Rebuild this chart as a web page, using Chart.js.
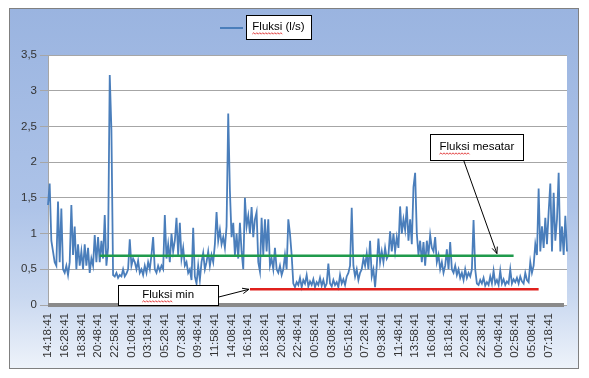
<!DOCTYPE html>
<html>
<head>
<meta charset="utf-8">
<script src="https://cdn.jsdelivr.net/npm/chart.js@4.4.0/dist/chart.umd.min.js"></script>
<style>
html, body { margin: 0; padding: 0; background: #fff; }
</style>
</head>
<body>
<canvas id="chart" width="589" height="378"></canvas>
<script>
// flow readings, one every 13 minutes, split by day
var fluxDay1 = [
    1.4, 1.7, 0.9, 0.75, 0.6, 0.55, 1.45, 0.6, 1.35, 0.5,
    0.45, 0.55, 0.42, 0.6, 1.4, 0.7, 1.1, 0.5, 0.85, 0.55,
    0.75, 0.5, 0.85, 0.55, 0.8, 0.45, 0.65, 0.55, 0.98, 0.6,
    0.95, 0.6, 0.9, 0.65, 1.26, 0.55, 0.8, 3.22, 2.45, 0.42,
    0.4, 0.45, 0.38, 0.42, 0.4
]
var fluxDay2 = [
    0.5, 0.4, 0.44, 0.5, 0.92,
    0.55, 0.65, 0.6, 0.5, 0.62, 0.45, 0.5, 0.42, 0.55, 0.45,
    0.6, 0.5, 0.7, 0.95, 0.5, 0.45, 0.55, 0.48, 0.55, 0.5,
    1.26, 0.65, 0.85, 0.6, 1.0, 0.75, 0.9, 1.22, 0.7, 1.15,
    0.65, 0.8, 0.55, 0.6, 0.45, 0.5, 0.35, 1.08, 0.4, 0.3,
    0.55, 0.35, 0.6, 0.73, 0.5, 0.6, 0.75, 0.55, 0.7, 0.6,
    0.85, 1.3, 0.9, 1.05, 0.85, 0.95, 0.8, 1.1, 2.68, 1.6,
    0.95, 1.15, 0.7, 1.0, 0.65, 1.15, 0.75, 0.5, 1.5, 1.1,
    1.25, 1.0, 1.37, 0.95, 1.2, 1.3, 0.6, 0.47, 1.22, 0.7,
    1.2, 0.75, 1.2, 0.55, 0.65, 0.5, 0.8, 0.5, 0.45, 0.55,
    0.42, 0.5, 0.7, 0.5, 1.2, 1.0, 0.7, 0.3, 0.25, 0.32,
    0.28, 0.38, 0.25, 0.35, 0.3, 0.42
]
var fluxDay3 = [
    0.26, 0.33, 0.28, 0.36,
    0.25, 0.32, 0.28, 0.38, 0.27, 0.35, 0.25, 0.3, 0.58, 0.3,
    0.26, 0.35, 0.28, 0.32, 0.25, 0.42, 0.3, 0.36, 0.28, 0.4,
    0.45, 0.55, 1.36, 0.55, 0.4, 0.5, 0.35, 0.45, 0.5, 0.65,
    0.55, 0.72, 0.5, 0.9, 0.4, 0.5, 0.25, 0.55, 0.93, 0.6,
    0.75, 0.6, 0.8, 0.65, 0.7, 1.03, 0.75, 1.0, 0.75, 0.95,
    0.8, 1.38, 1.0, 1.2, 1.05, 1.38, 0.9, 1.2, 0.85, 1.65,
    1.85, 1.0, 0.7, 0.9, 0.6, 0.88, 0.55, 0.9, 0.7, 0.98,
    0.8, 0.75, 0.95, 0.6, 0.7, 0.5, 0.6, 0.45, 0.55, 0.78,
    0.5, 0.88, 0.5, 0.45, 0.55, 0.42, 0.5, 0.38, 0.45, 0.35,
    0.5, 0.38, 0.45, 0.4, 0.5, 1.19, 0.5, 0.3, 0.28, 0.35,
    0.3, 0.38, 0.27, 0.32, 0.28, 0.4, 0.3
]
var fluxDay4 = [
    0.48, 0.3, 0.35,
    0.28, 0.48, 0.3, 0.36, 0.28, 0.33, 0.3, 0.5, 0.3, 0.36,
    0.32, 0.38, 0.3, 0.4, 0.33, 0.3, 0.45, 0.35, 0.32, 0.6,
    0.45, 0.55, 0.85, 0.7, 1.63, 0.75, 1.1, 0.8, 1.22, 0.85,
    1.3, 1.7, 0.75, 1.57, 0.9, 1.2, 1.85, 0.75, 1.1, 0.7,
    1.25, 0.75
]

var startTime = '14:18:41'
var stepMinutes = 13
var labelEvery = 10   // one shown label every 2h10m

// reference lines: average and minimum flow
var meanFlux = 0.69
var meanFrom = 31, meanTo = 279
var minFlux = 0.22
var minFrom = 121, minTo = 294

var flux = fluxDay1.concat(fluxDay2, fluxDay3, fluxDay4)

var p = startTime.split(':').map(Number)
var startSec = p[0] * 3600 + p[1] * 60 + p[2]
var times = flux.map(function (v, i) {
    var t = (startSec + i * stepMinutes * 60) % 86400
    var pad = function (n) { return String(n).padStart(2, '0') }
    return pad(Math.floor(t / 3600)) + ':' + pad(Math.floor(t / 60) % 60) + ':' + pad(t % 60)
})

var FONT = '"Liberation Sans", Arial, sans-serif'

function squiggle(ctx, x1, x2, y) {
    ctx.save()
    ctx.beginPath()
    ctx.moveTo(x1, y)
    var up = true
    for (var x = x1 + 1.5; x <= x2; x += 1.5) {
        ctx.lineTo(x, up ? y - 1.3 : y + 0.2)
        up = !up
    }
    ctx.strokeStyle = '#e03030'
    ctx.lineWidth = 0.9
    ctx.stroke()
    ctx.restore()
}

function textBox(ctx, l, t, r, b, text) {
    ctx.save()
    ctx.fillStyle = '#fff'
    ctx.fillRect(l, t, r - l, b - t)
    ctx.strokeStyle = '#000'
    ctx.lineWidth = 1
    ctx.strokeRect(Math.round(l) + 0.5, Math.round(t) + 0.5, Math.round(r - l), Math.round(b - t))
    ctx.font = '11.5px ' + FONT
    ctx.fillStyle = '#000'
    ctx.textBaseline = 'middle'
    ctx.textAlign = 'left'
    var w = ctx.measureText(text).width
    var x0 = (l + r) / 2 - w / 2
    var yc = (t + b) / 2
    ctx.fillText(text, x0, yc)
    squiggle(ctx, x0, x0 + ctx.measureText('Fluksi').width, yc + 7)
    ctx.restore()
}

function arrow(ctx, x1, y1, x2, y2) {
    ctx.save()
    ctx.strokeStyle = '#000'
    ctx.lineWidth = 1
    ctx.beginPath()
    ctx.moveTo(x1, y1)
    ctx.lineTo(x2, y2)
    ctx.stroke()
    var ang = Math.atan2(y2 - y1, x2 - x1), L = 7
    ctx.beginPath()
    ctx.moveTo(x2 - L * Math.cos(ang - 0.4), y2 - L * Math.sin(ang - 0.4))
    ctx.lineTo(x2, y2)
    ctx.lineTo(x2 - L * Math.cos(ang + 0.4), y2 - L * Math.sin(ang + 0.4))
    ctx.stroke()
    ctx.restore()
}

var chartDecor = {
    id: 'chartDecor',
    beforeDraw: function (chart) {
        var ctx = chart.ctx, a = chart.chartArea
        ctx.save()
        ctx.fillStyle = '#fff'
        ctx.fillRect(0, 0, chart.width, chart.height)
        var g = ctx.createLinearGradient(0, 8, 0, 369)
        g.addColorStop(0, '#9ab4e0')
        g.addColorStop(0.55, '#adc3e8')
        g.addColorStop(0.8, '#c9d8f0')
        g.addColorStop(1, '#eef3fa')
        ctx.fillStyle = g
        ctx.fillRect(9.5, 8.5, 569, 360)
        ctx.strokeStyle = '#808080'
        ctx.lineWidth = 1
        ctx.strokeRect(9.5, 8.5, 569, 360)
        ctx.fillStyle = '#fff'
        ctx.fillRect(a.left, a.top, a.right - a.left, a.bottom - a.top)
        ctx.restore()
    },
    afterDatasetsDraw: function (chart) {
        var ctx = chart.ctx, a = chart.chartArea
        var xs = chart.scales.x, ys = chart.scales.y
        ctx.save()
        // floor
        ctx.fillStyle = '#8a8a8a'
        ctx.fillRect(a.left, a.bottom - 2, a.right - a.left - 3, 4)

        // mean and min lines
        ctx.lineWidth = 2.5
        ctx.strokeStyle = '#1f9a4c'
        ctx.beginPath()
        ctx.moveTo(xs.getPixelForValue(meanFrom), ys.getPixelForValue(meanFlux))
        ctx.lineTo(xs.getPixelForValue(meanTo), ys.getPixelForValue(meanFlux))
        ctx.stroke()
        ctx.strokeStyle = '#e0201c'
        ctx.beginPath()
        ctx.moveTo(xs.getPixelForValue(minFrom), ys.getPixelForValue(minFlux))
        ctx.lineTo(xs.getPixelForValue(minTo), ys.getPixelForValue(minFlux))
        ctx.stroke()
        ctx.restore()

        // callouts
        arrow(ctx, xs.getPixelForValue(102), ys.getPixelForValue(0.11),
            xs.getPixelForValue(minFrom) - 1, ys.getPixelForValue(minFlux))
        textBox(ctx, xs.getPixelForValue(42), ys.getPixelForValue(0.28),
            xs.getPixelForValue(102), ys.getPixelForValue(0.0), 'Fluksi min')

        arrow(ctx, xs.getPixelForValue(249), ys.getPixelForValue(2.03),
            xs.getPixelForValue(269), ys.getPixelForValue(meanFlux + 0.03))
        textBox(ctx, xs.getPixelForValue(229), ys.getPixelForValue(2.39),
            xs.getPixelForValue(285), ys.getPixelForValue(2.03), 'Fluksi mesatar')

        // legend
        var ds = chart.data.datasets[0]
        ctx.save()
        ctx.strokeStyle = ds.borderColor
        ctx.lineWidth = 2
        ctx.beginPath()
        ctx.moveTo(220, 28)
        ctx.lineTo(243, 28)
        ctx.stroke()
        ctx.restore()
        textBox(ctx, 246, 15, 311, 39, ds.label)
    }
}

var context = document.getElementById('chart').getContext('2d')
new Chart(context, {
    type: 'line',
    data: {
        labels: times,
        datasets: [{
            label: 'Fluksi (l/s)',
            data: flux,
            borderColor: '#4a7ebb',
            borderWidth: 1.8,
            pointRadius: 0,
            tension: 0,
            fill: false
        }]
    },
    options: {
        responsive: false,
        animation: false,
        layout: { padding: { top: 55, right: 22, left: 0, bottom: 0 } },
        plugins: {
            legend: { display: false },
            tooltip: { enabled: false }
        },
        scales: {
            x: {
                grid: { display: false, drawTicks: false },
                border: { display: false },
                ticks: {
                    autoSkip: false,
                    maxRotation: 90,
                    minRotation: 90,
                    padding: 8,
                    color: '#333',
                    font: { family: FONT, size: 11.5 },
                    callback: function (v, i) {
                        // label only complete 2h10m blocks
                        var full = i % labelEvery === 0 && i + labelEvery < flux.length
                        return full ? this.getLabelForValue(v) : null
                    }
                },
                afterFit: function (s) { s.height = 73 }
            },
            y: {
                min: 0,
                max: 3.5,
                ticks: {
                    stepSize: 0.5,
                    padding: 3,
                    color: '#333',
                    font: { family: FONT, size: 11.5 },
                    callback: function (v) { return String(v).replace('.', ',') }
                },
                grid: { color: '#a6a6a6', tickLength: 8 },
                border: { display: true, color: '#a6a6a6' },
                afterFit: function (s) { s.width = 48 }
            }
        }
    },
    plugins: [chartDecor]
})
</script>
</body>
</html>
